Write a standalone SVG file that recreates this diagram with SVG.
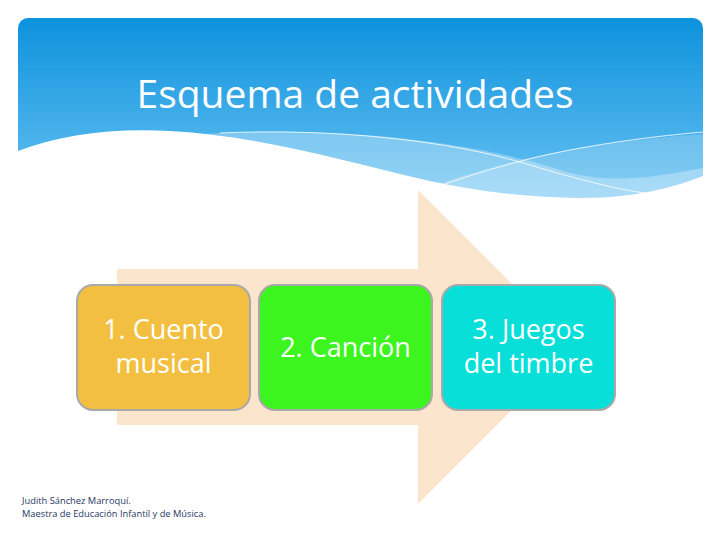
<svg xmlns="http://www.w3.org/2000/svg" width="720" height="540" viewBox="0 0 720 540">
<defs>
<linearGradient id="hdr" x1="0" y1="0" x2="0" y2="1">
<stop offset="0" stop-color="#0d92dd"/>
<stop offset="1" stop-color="#6cc4f3"/>
</linearGradient>
<clipPath id="hc"><rect x="18" y="18" width="685" height="300" rx="10"/></clipPath>
</defs>
<style>
.box{stroke:#a9a9a9;stroke-width:2}
.lbl{font-family:"Open Sans","Liberation Sans",sans-serif;fill:#ffffff;font-size:27px;text-anchor:middle}
.ttl{font-family:"Open Sans","Liberation Sans",sans-serif;fill:#ffffff;font-size:39px;text-anchor:middle}
.ft{font-family:"Open Sans","Liberation Sans",sans-serif;fill:#1f3864;font-size:9.3px}
.wl{fill:none;stroke:#ffffff;stroke-width:1;opacity:0.8}
</style>
<rect width="720" height="540" fill="#ffffff"/>
<g id="header">
<g clip-path="url(#hc)">
<rect x="18" y="18" width="685" height="190" fill="url(#hdr)"/>
<path d="M200,134 C330,126 470,140 560,170 C610,186 660,176 703,168 L703,210 L200,210 Z" fill="#ffffff" opacity="0.3"/>
<path d="M440,183 C540,150 620,140 703,134 L703,210 L440,210 Z" fill="#ffffff" opacity="0.2"/>
<path d="M18,151 C60,135 110,128 170,131 C260,136 340,160 430,181 C500,196 560,200 610,197 C650,194 680,185 703,176 L703,215 L18,215 Z" fill="#ffffff"/>
<path class="wl" d="M220,133 C330,128 450,140 530,165 C580,180 620,190 645,193"/>
<path class="wl" d="M445,184 C480,172 520,160 560,152 C620,140 670,135 703,132"/>
</g>
<text class="ttl" x="355" y="108">Esquema de actividades</text>
</g>
<g id="arrow">
<path d="M117,269 L418,269 L418,190 L575,347 L418,504 L418,425 L117,425 Z" fill="#fbe5cd"/>
</g>
<g id="n1">
<rect class="box" x="77" y="285" width="173" height="125" rx="16" fill="#f2bf40"/>
<text class="lbl" x="163.5" y="339">1. Cuento</text>
<text class="lbl" x="163.5" y="373">musical</text>
</g>
<g id="n2">
<rect class="box" x="259" y="285" width="173" height="125" rx="16" fill="#3cf51f"/>
<text class="lbl" x="345.5" y="357">2. Canción</text>
</g>
<g id="n3">
<rect class="box" x="442" y="285" width="173" height="125" rx="16" fill="#08dfd8"/>
<text class="lbl" x="528.5" y="339">3. Juegos</text>
<text class="lbl" x="528.5" y="373">del timbre</text>
</g>
<g id="connectors"></g>
<g id="footer">
<text class="ft" x="22" y="504">Judith Sánchez Marroquí.</text>
<text class="ft" x="22" y="517">Maestra de Educación Infantil y de Música.</text>
</g>
</svg>
